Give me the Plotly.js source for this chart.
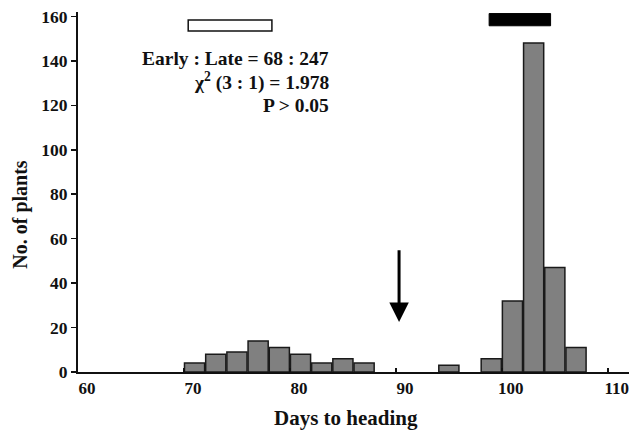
<!DOCTYPE html>
<html><head><meta charset="utf-8">
<script src="https://cdn.plot.ly/plotly-3.0.1.min.js"></script>
<style>html,body{margin:0;padding:0;background:#fff}#chart{width:632px;height:431px}</style>
</head><body><div id="chart"></div>
<script>
const binCenters = [71, 73, 75, 77, 79, 81, 83, 85, 87, 95, 99, 101, 103, 105, 107];
const plantCounts = [4, 8, 9, 14, 11, 8, 4, 6, 4, 3, 6, 32, 148, 47, 11];
const xTickValues = [60, 70, 80, 90, 100, 110];
const yTickValues = [0, 20, 40, 60, 80, 100, 120, 140, 160];
const statLines = ["Early : Late = 68 : 247", "χ<sup>2</sup> (3 : 1) = 1.978", "P > 0.05"];
const xTitle = "Days to heading";
const yTitle = "No. of plants";

const F = {family: "Liberation Serif", color: "#111", size: 17, weight: "bold"};
const withSize = s => Object.assign({}, F, {size: s});

const trace = {
  type: "bar", x: binCenters, y: plantCounts, width: 1.9,
  marker: {color: "#808080", line: {color: "#1a1a1a", width: 1.5}},
  hoverinfo: "skip"
};

const statY = [141.3, 130.7, 120.1];
const annotations = statLines.map((t, i) => ({
  x: 83.9, y: statY[i], xref: "x", yref: "y", text: t, showarrow: false,
  xanchor: "right", yanchor: "middle", font: withSize(19.5)
}));
annotations.push({
  x: 90.3, y: 22.5, ax: 90.3, ay: 55.5, xref: "x", yref: "y", axref: "x", ayref: "y",
  text: "", showarrow: true, arrowhead: 2, arrowsize: 1.3, arrowwidth: 3, arrowcolor: "#000"
});
annotations.push({
  x: 85.3, y: -0.128, xref: "x", yref: "paper", text: xTitle, showarrow: false,
  xanchor: "center", yanchor: "middle", font: withSize(21)
});
annotations.push({
  x: -0.1034, y: 0.437, xref: "paper", yref: "paper", text: yTitle, showarrow: false,
  textangle: -90, xanchor: "center", yanchor: "middle", font: withSize(20)
});

const layout = {
  width: 632, height: 431,
  margin: {l: 78, r: 3, t: 12, b: 58.5},
  paper_bgcolor: "#fff", plot_bgcolor: "#fff",
  showlegend: false, bargap: 0,
  font: F,
  xaxis: {
    range: [60, 112], tickvals: xTickValues, ticktext: xTickValues.map(String),
    ticks: "inside", ticklen: 4, tickwidth: 1.5, tickcolor: "#111",
    showline: true, linecolor: "#111", linewidth: 2, showgrid: false, zeroline: false,
    ticklabelshift: 9, tickfont: F
  },
  yaxis: {
    range: [0, 162], tickvals: yTickValues, ticktext: yTickValues.map(String),
    ticks: "outside", ticklen: 5, tickwidth: 1.5, tickcolor: "#111",
    showline: true, linecolor: "#111", linewidth: 2, showgrid: false, zeroline: false,
    tickfont: withSize(17.5)
  },
  shapes: [
    {type: "rect", xref: "x", yref: "y", x0: 70.4, x1: 78.3, y0: 153.4, y1: 158.4,
     fillcolor: "#fff", line: {color: "#111", width: 1.5}},
    {type: "rect", xref: "x", yref: "y", x0: 98.8, x1: 104.6, y0: 155.8, y1: 161.3,
     fillcolor: "#000", line: {color: "#000", width: 1}}
  ],
  annotations: annotations
};

Plotly.newPlot("chart", [trace], layout, {displayModeBar: false, staticPlot: true});
</script></body></html>
